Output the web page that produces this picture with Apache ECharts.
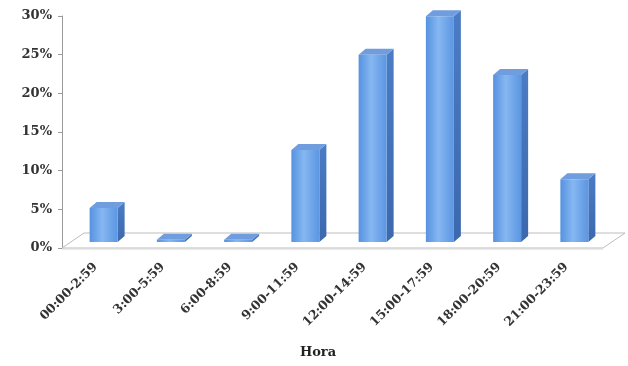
<!DOCTYPE html>
<html>
<head>
<meta charset="utf-8">
<script src="https://cdn.jsdelivr.net/npm/echarts@6/dist/echarts.min.js"></script>
<style>
  html, body { margin: 0; padding: 0; background: #ffffff; }
  #chart { width: 628px; height: 366px; }
</style>
</head>
<body>
<div id="chart"></div>
<script>
// Share of events by time-of-day slot (percent)
const categories = ['00:00-2:59', '3:00-5:59', '6:00-8:59', '9:00-11:59',
                    '12:00-14:59', '15:00-17:59', '18:00-20:59', '21:00-23:59'];
const shares = [4.4, 0.3, 0.3, 11.9, 24.2, 29.2, 21.6, 8.1];
const yTicks = { min: 0, max: 30, step: 5 };
const xTitle = 'Hora';

// Pseudo-3D geometry (pixels)
const BAR_W = 28;          // front face width
const SHIFT = [8, -6];     // front face offset into the floor
const DEPTH = [7, -6];     // bar depth
const FLOOR = [22, -15];   // floor depth

const FONT = '"DejaVu Serif", "Liberation Serif", serif';

function renderFloor(params, api) {
  const cs = params.coordSys;
  const x0 = cs.x, x1 = cs.x + cs.width + 3, y = cs.y + cs.height;
  return {
    type: 'group',
    children: [
      {
        type: 'polygon',
        shape: { points: [[x0, y], [x1, y], [x1 + FLOOR[0], y + FLOOR[1]], [x0 + FLOOR[0], y + FLOOR[1]]] },
        style: { fill: '#ffffff', stroke: '#bdbdbd', lineWidth: 1 }
      },
      {
        type: 'line',
        shape: { x1: x0, y1: y + 1, x2: x1, y2: y + 1 },
        style: { stroke: '#d6d6d6', lineWidth: 1 }
      }
    ]
  };
}

function renderBar(params, api) {
  const i = api.value(0), v = api.value(1);
  const base = api.coord([i, 0]);
  const top = api.coord([i, v]);
  const l = base[0] - BAR_W / 2 + SHIFT[0];
  const r = base[0] + BAR_W / 2 + SHIFT[0];
  const b = base[1] + SHIFT[1];
  const t = top[1] + SHIFT[1];
  const dx = DEPTH[0], dy = DEPTH[1];
  return {
    type: 'group',
    children: [
      {
        type: 'polygon',
        shape: { points: [[r, t], [r + dx, t + dy], [r + dx, b + dy], [r, b]] },
        style: {
          fill: new echarts.graphic.LinearGradient(0, 0, 0, 1, [
            { offset: 0, color: '#4b7cc4' },
            { offset: 1, color: '#3c68ad' }
          ])
        }
      },
      {
        type: 'polygon',
        shape: { points: [[l, t], [l + dx, t + dy], [r + dx, t + dy], [r, t]] },
        style: { fill: '#6f9ddd' }
      },
      {
        type: 'rect',
        shape: { x: l, y: t, width: r - l, height: Math.max(b - t, 0.5) },
        style: {
          fill: new echarts.graphic.LinearGradient(0, 0, 1, 0, [
            { offset: 0, color: '#5592e0' },
            { offset: 0.45, color: '#86b7f1' },
            { offset: 1, color: '#5b96e2' }
          ])
        }
      }
    ]
  };
}

const chart = echarts.init(document.getElementById('chart'), null, { renderer: 'canvas' });
chart.setOption({
  animation: false,
  backgroundColor: '#ffffff',
  grid: { left: 62, right: 28, top: 16, bottom: 118 },
  xAxis: {
    type: 'category',
    data: categories,
    axisLine: { show: false },
    axisTick: { show: false },
    axisLabel: {
      rotate: 45,
      interval: 0,
      margin: 17,
      color: '#333333',
      fontFamily: FONT,
      fontWeight: 'bold',
      fontSize: 12.5
    },
    name: xTitle,
    nameLocation: 'middle',
    nameGap: 98,
    nameTextStyle: {
      color: '#222222',
      fontFamily: FONT,
      fontWeight: 'bold',
      fontSize: 13,
      padding: [0, 26, 0, 0]
    }
  },
  yAxis: {
    type: 'value',
    min: yTicks.min,
    max: yTicks.max,
    interval: yTicks.step,
    axisLine: { show: true, lineStyle: { color: '#9a9a9a', width: 1 } },
    axisTick: { show: true, length: 4, lineStyle: { color: '#9a9a9a' } },
    splitLine: { show: false },
    axisLabel: {
      formatter: '{value}%',
      margin: 10,
      color: '#333333',
      fontFamily: FONT,
      fontWeight: 'bold',
      fontSize: 13
    }
  },
  series: [
    {
      type: 'custom',
      renderItem: renderFloor,
      data: [[0, 0]],
      z: 1,
      silent: true
    },
    {
      type: 'custom',
      renderItem: renderBar,
      data: shares.map((v, i) => [i, v]),
      encode: { x: 0, y: 1 },
      z: 2
    }
  ]
});
</script>
</body>
</html>
